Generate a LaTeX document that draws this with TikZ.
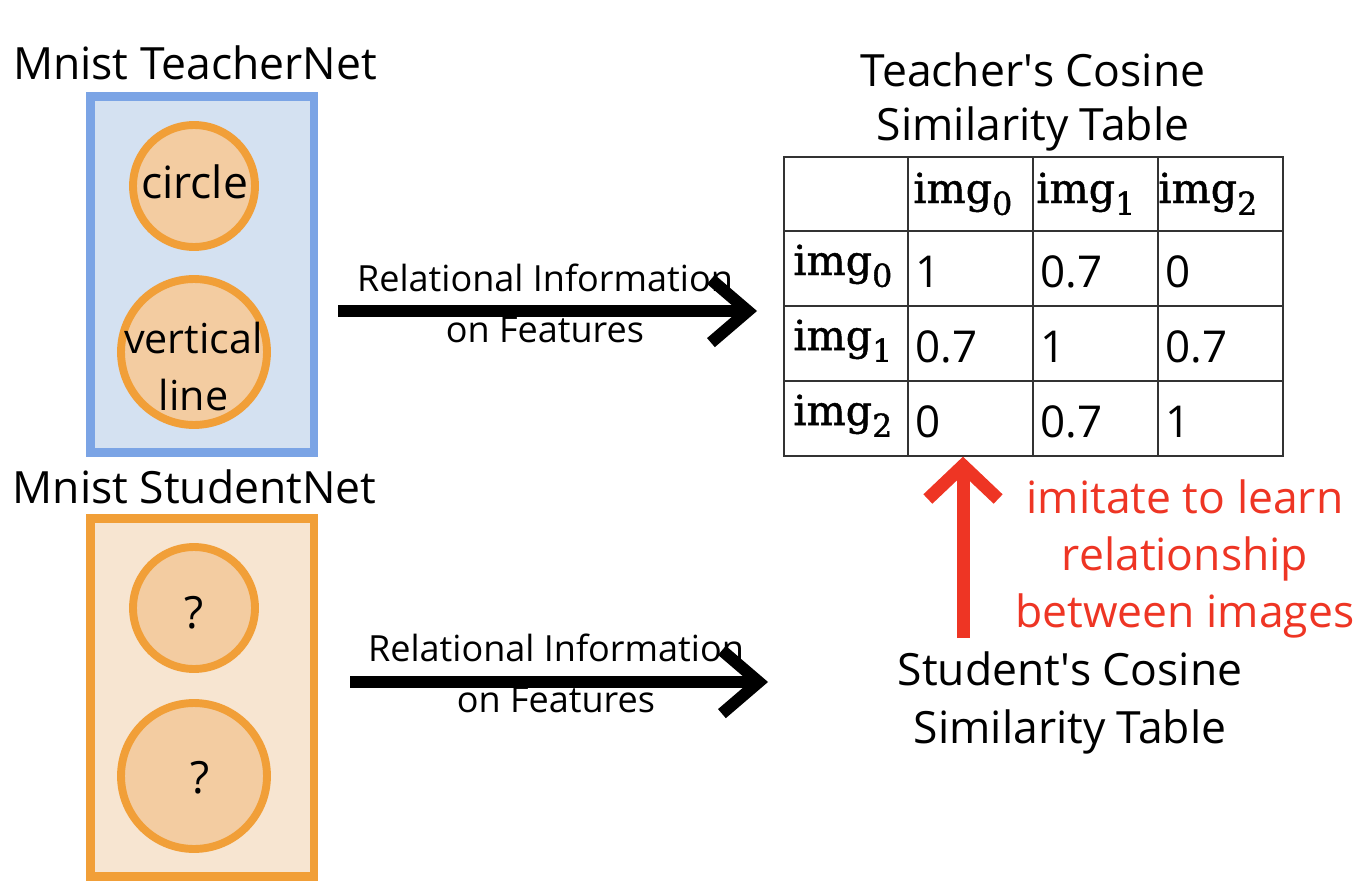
\documentclass[tikz,border=0pt]{standalone}
\usepackage{fontspec}
\setmainfont{Open Sans}
\newfontfamily\slabfont[FakeBold=1.2]{DejaVu Serif}
\usetikzlibrary{arrows.meta}
\definecolor{tfill}{HTML}{D4E1F1}
\definecolor{tline}{HTML}{7BA4E5}
\definecolor{oline}{HTML}{F19F38}
\definecolor{ofill}{HTML}{F3CCA1}
\definecolor{sfill}{HTML}{F7E5D1}
\definecolor{redc}{HTML}{EE3524}
\definecolor{gridc}{HTML}{333333}
\newcommand\imgs[1]{{\slabfont img\raisebox{-0.55ex}{\fontsize{18}{18}\selectfont #1}}}
\tikzset{
  bigtxt/.style={font=\fontsize{25.3}{30}\selectfont, inner sep=0, anchor=base},
  smalltxt/.style={font=\fontsize{20.5}{28.5}\selectfont, inner sep=0, align=center, anchor=base},
  netbox/.style={rectangle, line width=5.1pt, minimum width=4.48cm, inner sep=0},
  feat/.style={circle, draw=oline, fill=ofill, line width=4.5pt, inner sep=0},
  flow/.style={line width=6.8pt, -{Straight Barb[length=21pt,width=36pt]}},
  redflow/.style={draw=redc, line width=7.4pt, -{Straight Barb[length=19pt,width=40pt]}},
  cell/.style={anchor=base west, inner sep=0, font=\fontsize{25}{30}\selectfont},
  hcell/.style={anchor=base west, inner sep=0, font=\fontsize{23.5}{28}\selectfont},
}
\begin{document}
\begin{tikzpicture}[x=0.02cm,y=-0.02cm]
\useasboundingbox (0,0) rectangle (1366,882);
% teacher net
\node[bigtxt] (ttitle) at (195,80) {Mnist TeacherNet};
\node[netbox, draw=tline, fill=tfill, minimum height=7.14cm] (tbox) at (202,274.5) {};
\node[feat, minimum size=2.44cm] (c1) at (194,186) {};
\node[feat, minimum size=2.92cm] (c2) at (194,352) {};
\node[bigtxt] (c1t) at (194.5,198) {circle};
\node[bigtxt, align=center, font=\fontsize{23.5}{32.4}\selectfont] (c2t) at (193.5,410) {vertical\\line};
% student net
\node[bigtxt] (stitle) at (194.5,503) {Mnist StudentNet};
\node[netbox, draw=oline, fill=sfill, minimum height=7.18cm] (sbox) at (202,697.5) {};
\node[feat, minimum size=2.44cm] (s1) at (194,608) {};
\node[feat, minimum size=2.92cm] (s2) at (194,776) {};
\node[bigtxt] (s1t) at (194,628) {?};
\node[bigtxt] (s2t) at (200,793) {?};
% arrows
\coordinate (a1s) at (338,311);
\coordinate (a1e) at (757,311);
\coordinate (a2s) at (350,682);
\coordinate (a2e) at (768,682);
\node[smalltxt] (rel1) at (545,342) {Relational Information\\on Features};
\node[smalltxt] (rel2) at (556,712) {Relational Information\\on Features};
\draw[flow] (a1s) -- (a1e);
\draw[flow] (a2s) -- (a2e);
% teacher table
\node[bigtxt, align=center, font=\fontsize{25.3}{30.2}\selectfont] (ttab) at (1033,140) {Teacher\textquotesingle s Cosine\\Similarity Table};
\node[draw=gridc, line width=0.8pt, minimum width=9.98cm, minimum height=5.98cm, inner sep=0] (tab) at (1033.5,306.5) {};
\foreach \x in {908,1033,1158} \draw[gridc, line width=0.8pt] (\x,157) -- (\x,456);
\foreach \y in {231,306,381} \draw[gridc, line width=0.8pt] (784,\y) -- (1283,\y);
\node[hcell] (h0) at (913,203) {\imgs{0}};
\node[hcell] (h1) at (1036,203) {\imgs{1}};
\node[hcell] (h2) at (1158,203) {\imgs{2}};
\node[hcell] (r0) at (793,275) {\imgs{0}};
\node[hcell] (r1) at (793,350) {\imgs{1}};
\node[hcell] (r2) at (793,425) {\imgs{2}};
\node[cell] (v00) at (915,287) {1};
\node[cell] (v01) at (1040,287) {0.7};
\node[cell] (v02) at (1165,287) {0};
\node[cell] (v10) at (915,362) {0.7};
\node[cell] (v11) at (1040,362) {1};
\node[cell] (v12) at (1165,362) {0.7};
\node[cell] (v20) at (915,437) {0};
\node[cell] (v21) at (1040,437) {0.7};
\node[cell] (v22) at (1165,437) {1};
% student table and imitation
\node[bigtxt, align=center, font=\fontsize{25.3}{33}\selectfont] (stab) at (1070,743) {Student\textquotesingle s Cosine\\Similarity Table};
\node[bigtxt, align=center, text=redc, font=\fontsize{25.3}{32.4}\selectfont] (imit) at (1185,627) {imitate to learn\\relationship\\between images};
\coordinate (rs) at (963,638);
\draw[redflow] (rs) -- (rs |- tab.south);
\end{tikzpicture}
\end{document}
